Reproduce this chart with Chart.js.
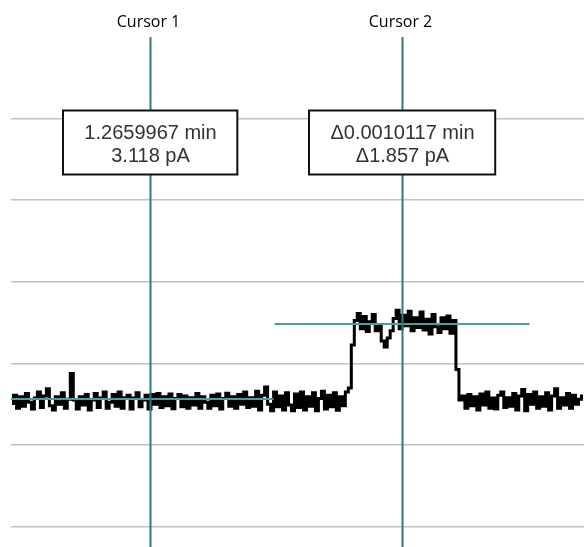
<!DOCTYPE html>
<html>
<head>
<meta charset="utf-8">
<script src="https://cdn.jsdelivr.net/npm/chart.js@4.4.1/dist/chart.umd.min.js"></script>
<style>
  body { margin: 0; background: #fff; }
  #wrap { width: 584px; height: 547px; }
</style>
</head>
<body>
<div id="wrap"><canvas id="trace-chart"></canvas></div>
<script>
// current trace, pA, one sample every sampleStep minutes
const pA = [
  3.02, 3.22, 2.9, 3.18, 2.95, 3.26, 3.05, 2.88, 3.15, 3.3, 2.92, 3.2, 3.38, 2.96, 2.86, 3.18, 3.0, 3.28, 2.9, 3.12,
  3.75, 3.1,
  2.88, 3.18, 2.98, 3.24, 2.86, 3.1, 3.26, 2.92, 3.15, 3.3, 2.9, 3.05, 3.24, 2.95, 3.3, 2.9, 3.16, 3.22, 2.88,
  3.15, 3.28, 2.94, 3.1, 3.22, 2.88, 3.24, 3.0, 3.26, 2.92, 3.18, 2.96, 3.25, 2.89, 3.14, 3.24, 2.94, 3.2, 2.9, 3.16,
  2.98, 3.26, 2.9, 3.18, 3.05, 2.9, 3.22, 2.96, 3.25, 2.88, 3.14, 3.27, 2.95, 3.18, 2.9, 3.24, 3.0, 3.3, 2.92, 3.16,
  2.95, 3.32, 2.86, 3.22, 3.42, 3.0, 2.84, 3.3, 2.94, 3.2, 2.86, 3.28, 2.98, 2.84, 3.25, 2.92, 3.3, 2.86, 3.18, 2.95,
  3.28, 2.84, 3.14, 3.32, 2.88, 3.22, 2.94, 3.28, 2.85, 3.18, 2.96, 3.3, 3.4,
  4.45,
  5.05, 5.22, 4.85, 5.15, 4.78, 5.02, 5.2, 4.8, 4.95, 4.55, 4.4, 4.62, 4.8, 5.1, 5.3, 4.85, 5.18,
  4.92, 5.28, 4.8, 5.12, 4.88, 5.26, 4.82, 5.08, 4.72, 5.2, 4.9, 4.76, 5.12, 4.85, 5.16, 4.74, 5.05,
  3.85, 3.1,
  3.2, 2.9, 3.24, 2.96, 3.18, 2.86, 3.25, 2.98, 3.3, 2.9, 3.15, 2.88, 3.22, 3.3, 2.92, 3.16, 2.95, 3.26, 2.86, 3.2,
  3.36, 2.84, 3.24, 3.0, 3.3, 2.9, 3.18, 2.95, 3.28, 2.86, 3.2, 3.38, 2.9, 3.16, 2.98, 3.26, 2.9, 3.22, 3.0, 3.12,
  3.2
];
const sampleStart = 1.265444;
const sampleStep = 0.000012;

const timeRange = [1.26544, 1.26774];
const currentRange = [-0.5, 12];
const yTicks = [0, 2, 4, 6, 8, 10];

const cursorNames = ["Cursor 1", "Cursor 2"];
const cursorTimes = [1.2659967, 1.2670084];
const cursorLevels = [3.118, 4.975];
const cursorText = [
  ["1.2659967 min", "3.118 pA"],
  ["\u03940.0010117 min", "\u03941.857 pA"]
];

const points = pA.map((v, i) => ({ x: sampleStart + i * sampleStep, y: v }));

// cursors: vertical line, short horizontal line, name on top and readout box
const cursorPlugin = {
  id: 'cursors',
  afterDatasetsDraw(chart) {
    const { ctx, chartArea, scales: { x, y } } = chart;
    const leftReach = [140, 128];
    const rightReach = [123, 127];
    ctx.save();
    cursorTimes.forEach((t, k) => {
      const px = Math.round(x.getPixelForValue(t)) + 0.5;
      const py = Math.round(y.getPixelForValue(cursorLevels[k]));

      ctx.strokeStyle = '#4f9c9c';
      ctx.lineWidth = 2;
      ctx.beginPath();
      ctx.moveTo(Math.max(chartArea.left, px - leftReach[k]), py);
      ctx.lineTo(px + rightReach[k], py);
      ctx.stroke();

      ctx.strokeStyle = '#2f7c7c';
      ctx.beginPath();
      ctx.moveTo(px, chartArea.top);
      ctx.lineTo(px, chartArea.bottom);
      ctx.stroke();

      ctx.fillStyle = '#000';
      ctx.font = '16px "Open Sans"';
      ctx.textAlign = 'center';
      ctx.textBaseline = 'alphabetic';
      ctx.fillText(cursorNames[k], px - 2, 27);

      ctx.font = '20px "Liberation Sans"';
      const w = Math.max(...cursorText[k].map(s => ctx.measureText(s).width)) + 42;
      const bx = Math.round(px - w / 2), by = 110.5;
      ctx.fillStyle = '#fff';
      ctx.fillRect(bx, by, w, 64);
      ctx.strokeStyle = '#111';
      ctx.lineWidth = 2;
      ctx.strokeRect(bx, by, w, 64);
      ctx.fillStyle = '#333';
      ctx.fillText(cursorText[k][0], px, 139);
      ctx.fillText(cursorText[k][1], px, 162);
    });
    ctx.restore();
  }
};

new Chart(document.getElementById("trace-chart"), {
  type: 'line',
  data: {
    datasets: [
      {
        data: points,
        borderColor: '#000',
        borderWidth: 3,
        pointRadius: 0,
        stepped: 'middle',
        fill: false
      }
    ]
  },
  options: {
    responsive: true,
    maintainAspectRatio: false,
    animation: false,
    layout: { padding: { left: 11, top: 37, right: 0, bottom: 0 } },
    plugins: {
      legend: { display: false },
      tooltip: { enabled: false }
    },
    scales: {
      x: {
        type: 'linear',
        display: false,
        min: timeRange[0],
        max: timeRange[1]
      },
      y: {
        min: currentRange[0],
        max: currentRange[1],
        afterBuildTicks: axis => { axis.ticks = yTicks.map(v => ({ value: v })); },
        ticks: { display: false },
        border: { display: false },
        grid: { color: '#c2c2c2', lineWidth: 1.5, drawTicks: false }
      }
    }
  },
  plugins: [cursorPlugin]
});
</script>
</body>
</html>
